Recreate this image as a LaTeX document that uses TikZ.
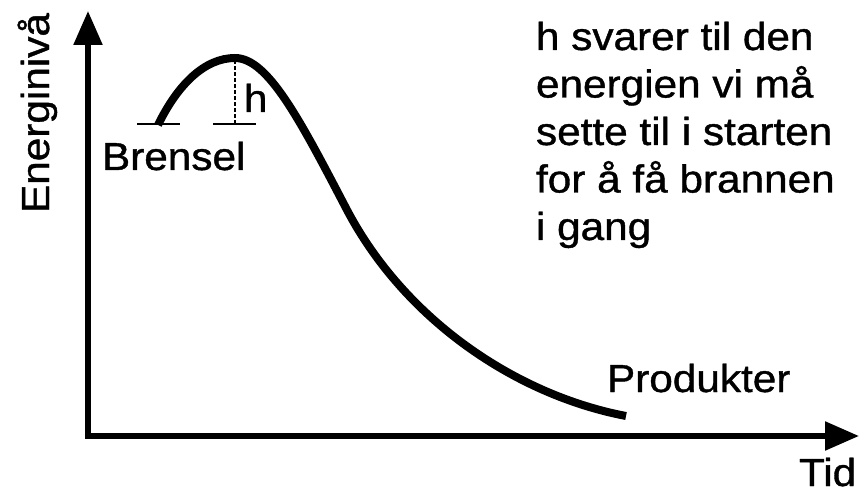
\documentclass[tikz,border=0pt]{standalone}
\usepackage{fontspec}
\setmainfont{Liberation Sans}[FakeStretch=1.085,FakeBold=1]
\usetikzlibrary{arrows.meta}
\begin{document}
\begin{tikzpicture}[x=1pt,y=-1pt,
  lbl/.style={inner sep=0pt,outer sep=0pt,font=\fontsize{39}{47.5}\selectfont},
  axis/.style={line width=5.5pt,{Triangle[length=34pt,width=28pt]}-{Triangle[length=34pt,width=28pt]}},
  curve/.style={line width=8pt},
  tick/.style={line width=2pt},
  guide/.style={line width=2pt,dash pattern=on 3.5pt off 2.5pt}]
\useasboundingbox (0,0) rectangle (860,492);
% axes
\coordinate (ytip) at (88,11);
\coordinate (O) at (88,436);
\coordinate (xtip) at (859,436);
\draw[axis] (ytip) -- (O) -- (xtip);
% curve
\coordinate (start) at (158,125);
\coordinate (top) at (235,58);
\coordinate (mid) at (347,210);
\coordinate (end) at (626,416);
\draw[curve] (start) .. controls (178,84) and (205,58) .. (top)
  .. controls (268,58) and (300,120) .. (mid)
  .. controls (405,320) and (516,395) .. (end);
% ticks
\coordinate (t1a) at (137,124); \coordinate (t1b) at (180,124);
\coordinate (t2a) at (213,124); \coordinate (t2b) at (256,124);
\draw[tick] (t1a) -- (t1b);
\draw[tick] (t2a) -- (t2b);
\coordinate (peak) at (235,62);
\coordinate (hbase) at (235,124);
\draw[guide] (hbase) -- (peak);
% labels
\node[lbl,anchor=base west] (h) at (244,112) {h};
\node[lbl,anchor=base west] (brensel) at (102,170) {Brensel};
\node[lbl,anchor=base west] (prod) at (607,392) {Produkter};
\node[lbl,anchor=base west] (tid) at (799,486) {Tid};
\node[lbl,anchor=base,rotate=90] (energi) at (49,113) {Energinivå};
\node[lbl,anchor=base west] (l1) at (536,50) {h svarer til den};
\node[lbl,anchor=base west] (l2) at (536,97.5) {energien vi må};
\node[lbl,anchor=base west] (l3) at (536,145) {sette til i starten};
\node[lbl,anchor=base west] (l4) at (536,192.5) {for å få brannen};
\node[lbl,anchor=base west] (l5) at (536,240) {i gang};
\end{tikzpicture}
\end{document}
